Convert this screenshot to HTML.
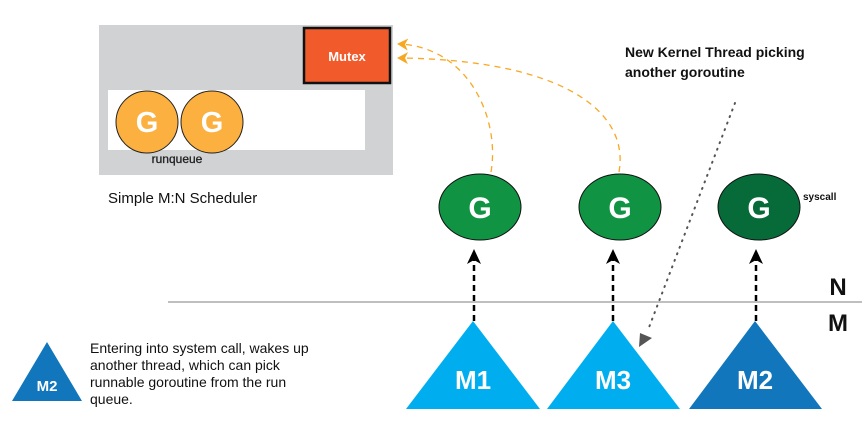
<!DOCTYPE html>
<html><head><style>
body{margin:0;background:#fff;}
svg{display:block;font-family:"Liberation Sans",Arial,sans-serif;}
</style></head><body>
<svg width="867" height="422" viewBox="0 0 867 422">
<defs>
<marker id="ah" markerWidth="16" markerHeight="16" refX="8" refY="8" orient="auto" markerUnits="userSpaceOnUse"><path d="M0,1 L15,8 L0,15 L4,8 Z" fill="#000"/></marker>
<marker id="oh" markerWidth="12" markerHeight="12" refX="8" refY="6" orient="auto" markerUnits="userSpaceOnUse"><path d="M0,0 L11,6 L0,12 L3,6 Z" fill="#f7a823"/></marker>
</defs>
<rect x="99" y="25" width="294" height="150" fill="#d1d2d4"/>
<rect x="304" y="28" width="86" height="55" fill="#f15a2b" stroke="#111" stroke-width="2.5"/>
<text x="347" y="61" font-size="13" font-weight="bold" fill="#fff" text-anchor="middle">Mutex</text>
<rect x="108" y="90" width="257" height="60" fill="#fff"/>
<circle cx="147" cy="122" r="31" fill="#fbb040" stroke="#222" stroke-width="1"/>
<circle cx="212" cy="122" r="31" fill="#fbb040" stroke="#222" stroke-width="1"/>
<text x="147" y="132" font-size="29" font-weight="bold" fill="#fff" text-anchor="middle">G</text>
<text x="212" y="132" font-size="29" font-weight="bold" fill="#fff" text-anchor="middle">G</text>
<text x="177" y="163" font-size="12" fill="#222" text-anchor="middle" stroke="#222" stroke-width="0.3">runqueue</text>
<text x="108" y="203" font-size="15" fill="#111">Simple M:N Scheduler</text>
<path d="M491,172 C500,120 470,48 400,44" fill="none" stroke="#f7a823" stroke-width="1.3" stroke-dasharray="6,5" marker-end="url(#oh)"/>
<path d="M619,172 C630,110 560,60 400,58" fill="none" stroke="#f7a823" stroke-width="1.3" stroke-dasharray="6,5" marker-end="url(#oh)"/>
<text x="625" y="57" font-size="14" font-weight="bold" fill="#111">New Kernel Thread picking</text>
<text x="625" y="77" font-size="14" font-weight="bold" fill="#111">another goroutine</text>
<line x1="168" y1="302" x2="862" y2="302" stroke="#aaa" stroke-width="1.5"/>
<text x="838" y="295" font-size="24" font-weight="bold" fill="#111" text-anchor="middle">N</text>
<text x="838" y="331" font-size="24" font-weight="bold" fill="#111" text-anchor="middle">M</text>
<ellipse cx="480" cy="207" rx="41" ry="33" fill="#109444" stroke="#111"/>
<ellipse cx="620" cy="207" rx="41" ry="33" fill="#109444" stroke="#111"/>
<ellipse cx="759" cy="207" rx="41" ry="33" fill="#066b38" stroke="#111"/>
<text x="480" y="218" font-size="30" font-weight="bold" fill="#fff" text-anchor="middle">G</text>
<text x="620" y="218" font-size="30" font-weight="bold" fill="#fff" text-anchor="middle">G</text>
<text x="759" y="218" font-size="30" font-weight="bold" fill="#fff" text-anchor="middle">G</text>
<text x="803" y="200" font-size="10" font-weight="bold" fill="#111">syscall</text>
<line x1="474" y1="321" x2="474" y2="256" stroke="#000" stroke-width="2.5" stroke-dasharray="6,4" marker-end="url(#ah)"/>
<line x1="613" y1="321" x2="613" y2="256" stroke="#000" stroke-width="2.5" stroke-dasharray="6,4" marker-end="url(#ah)"/>
<line x1="756" y1="321" x2="756" y2="256" stroke="#000" stroke-width="2.5" stroke-dasharray="6,4" marker-end="url(#ah)"/>
<line x1="735" y1="103" x2="648" y2="330" stroke="#555" stroke-width="2" stroke-dasharray="1,6" stroke-linecap="round"/>
<path d="M639,347 L640,333 L652,338 Z" fill="#555"/>
<polygon points="473,321 540,409 406,409" fill="#00aeef"/>
<polygon points="613,321 680,409 547,409" fill="#00aeef"/>
<polygon points="755,321 822,409 689,409" fill="#1176bc"/>
<text x="473" y="389" font-size="26" font-weight="bold" fill="#fff" text-anchor="middle">M1</text>
<text x="613" y="389" font-size="26" font-weight="bold" fill="#fff" text-anchor="middle">M3</text>
<text x="755" y="389" font-size="26" font-weight="bold" fill="#fff" text-anchor="middle">M2</text>
<polygon points="47,342 82,401 12,401" fill="#1176bc"/>
<text x="47" y="391" font-size="15" font-weight="bold" fill="#fff" text-anchor="middle">M2</text>
<text font-size="14" fill="#111"><tspan x="90" y="353">Entering into system call, wakes up</tspan><tspan x="90" y="370">another thread, which can pick</tspan><tspan x="90" y="387">runnable goroutine from the run</tspan><tspan x="90" y="404">queue.</tspan></text>
</svg>
</body></html>
